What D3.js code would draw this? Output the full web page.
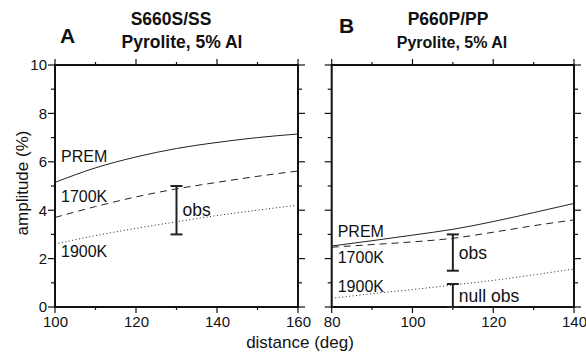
<!DOCTYPE html>
<html>
<head>
<meta charset="utf-8">
<script src="https://cdn.jsdelivr.net/npm/d3@7"></script>
<style>
  body { margin: 0; background: #fff; }
  svg { display: block; font-family: "Liberation Sans", Arial, sans-serif; }
</style>
</head>
<body>
<svg width="586" height="353"></svg>
<script>
// panel A: S660S/SS
const distA = [100, 110, 120, 130, 140, 150, 160];
const premA = [5.15, 5.75, 6.2, 6.55, 6.8, 7.0, 7.15];
const k1700A = [3.7, 4.15, 4.55, 4.88, 5.15, 5.4, 5.62];
const k1900A = [2.6, 2.95, 3.25, 3.52, 3.78, 4.0, 4.21];
const obsA = [{ x: 130, lo: 3.0, hi: 5.0, label: "obs" }];

// panel B: P660P/PP
const distB = [80, 90, 100, 110, 120, 130, 140];
const premB = [2.52, 2.74, 2.97, 3.21, 3.53, 3.9, 4.28];
const k1700B = [2.47, 2.58, 2.69, 2.84, 3.09, 3.36, 3.6];
const k1900B = [0.36, 0.55, 0.72, 0.91, 1.1, 1.33, 1.57];
const obsB = [{ x: 110, lo: 1.5, hi: 3.0, label: "obs" }, { x: 110, lo: 0, hi: 0.95, label: "null obs" }];

const yTicks = [0, 2, 4, 6, 8, 10];

const svg = d3.select('svg');
const plotTop = 65, plotBottom = 307;

const y = d3.scaleLinear().domain([0, 10]).range([plotBottom, plotTop]);

function drawPanel(opt) {
    const x = d3.scaleLinear().domain(opt.domain).range(opt.range);
    const g = svg.append('g');
    const [x0, x1] = opt.range;

    const majorX = d3.range(opt.domain[0], opt.domain[1] + 1, 20);
    const minorX = d3.range(opt.domain[0], opt.domain[1] + 1, 10);
    const minorY = d3.range(0, 11, 1);

    // ticks, outward on every side
    const tk = g.append('g').attr('stroke', '#111').attr('stroke-width', 1.2);
    minorX.forEach(v => {
        const len = majorX.includes(v) ? 6 : 3;
        tk.append('line').attr('x1', x(v)).attr('x2', x(v)).attr('y1', plotTop).attr('y2', plotTop - len);
        tk.append('line').attr('x1', x(v)).attr('x2', x(v)).attr('y1', plotBottom).attr('y2', plotBottom + len);
    });
    minorY.forEach(v => {
        const len = yTicks.includes(v) ? 7 : 4;
        tk.append('line').attr('y1', y(v)).attr('y2', y(v)).attr('x1', x0).attr('x2', x0 - len);
        tk.append('line').attr('y1', y(v)).attr('y2', y(v)).attr('x1', x1).attr('x2', x1 + len);
    });

    g.append('g')
        .attr('transform', `translate(0,${plotBottom})`)
        .call(d3.axisBottom(x).tickValues(majorX).tickSize(0).tickPadding(9).tickFormat(d3.format('d')))
        .call(a => a.select('.domain').remove())
        .call(a => a.selectAll('text').attr('font-size', 15).attr('fill', '#111'))
        .attr('font-family', null);

    if (opt.yLabels) {
        g.append('g')
            .attr('transform', `translate(${x0},0)`)
            .call(d3.axisLeft(y).tickValues(yTicks).tickSize(0).tickPadding(8).tickFormat(d3.format('d')))
            .call(a => a.select('.domain').remove())
            .call(a => a.selectAll('text').attr('font-size', 15).attr('fill', '#111'))
            .attr('font-family', null);
    }

    // frame
    g.append('rect')
        .attr('x', x0).attr('y', plotTop)
        .attr('width', x1 - x0).attr('height', plotBottom - plotTop)
        .attr('fill', 'none').attr('stroke', '#111').attr('stroke-width', 2);

    const line = d3.line().x(d => x(d[0])).y(d => y(d[1])).curve(d3.curveMonotoneX);
    const curves = [
        { v: opt.prem, dash: null, w: 1 },
        { v: opt.k1700, dash: '7,5', w: 1 },
        { v: opt.k1900, dash: '1,2.5', w: 1 }
    ];
    curves.forEach(c => {
        g.append('path')
            .datum(opt.dist.map((d, i) => [d, c.v[i]]))
            .attr('d', line)
            .attr('fill', 'none')
            .attr('stroke', '#222')
            .attr('stroke-width', c.w)
            .attr('stroke-dasharray', c.dash);
    });

    // curve labels
    opt.curveLabels.forEach(l => {
        g.append('text').attr('x', x0 + 6).attr('y', l.y)
            .attr('font-size', 16).attr('fill', '#111').text(l.t);
    });

    // error bars
    opt.obs.forEach(o => {
        const ex = x(o.x);
        const eb = g.append('g').attr('stroke', '#222').attr('stroke-width', 2);
        eb.append('line').attr('x1', ex).attr('x2', ex).attr('y1', y(o.lo)).attr('y2', y(o.hi));
        eb.append('line').attr('x1', ex - 6).attr('x2', ex + 6).attr('y1', y(o.lo)).attr('y2', y(o.lo));
        eb.append('line').attr('x1', ex - 6).attr('x2', ex + 6).attr('y1', y(o.hi)).attr('y2', y(o.hi));
        g.append('text')
            .attr('x', ex + 6)
            .attr('y', (y(o.lo) + y(o.hi)) / 2 + 6)
            .attr('font-size', 17.5).attr('fill', '#111').text(o.label);
    });

    // titles
    g.append('text').attr('x', opt.letter[1]).attr('y', opt.letter[2])
        .attr('font-size', 21).attr('font-weight', 'bold').attr('fill', '#111').text(opt.letter[0]);
    opt.titles.forEach(t => {
        g.append('text').attr('x', t.x).attr('y', t.y).attr('text-anchor', 'middle')
            .attr('font-size', t.s).attr('font-weight', 'bold').attr('fill', '#111').text(t.t);
    });
}

drawPanel({
    domain: [100, 160], range: [55, 298], yLabels: true,
    dist: distA, prem: premA, k1700: k1700A, k1900: k1900A, obs: obsA,
    curveLabels: [{ t: 'PREM', y: 162 }, { t: '1700K', y: 202 }, { t: '1900K', y: 257 }],
    letter: ['A', 60, 43],
    titles: [{ t: 'S660S/SS', x: 171, y: 25, s: 17.5 }, { t: 'Pyrolite, 5% Al', x: 182, y: 48, s: 17.5 }]
});

drawPanel({
    domain: [80, 140], range: [331.7, 574], yLabels: false,
    dist: distB, prem: premB, k1700: k1700B, k1900: k1900B, obs: obsB,
    curveLabels: [{ t: 'PREM', y: 237 }, { t: '1700K', y: 263 }, { t: '1900K', y: 292 }],
    letter: ['B', 339, 33],
    titles: [{ t: 'P660P/PP', x: 448, y: 25, s: 17.5 }, { t: 'Pyrolite, 5% Al', x: 452, y: 48, s: 16 }]
});

// axis titles
svg.append('text')
    .attr('transform', 'translate(28,183) rotate(-90)')
    .attr('text-anchor', 'middle')
    .attr('font-size', 17).attr('fill', '#111')
    .text('amplitude (%)');

svg.append('text')
    .attr('x', 300).attr('y', 348)
    .attr('text-anchor', 'middle')
    .attr('font-size', 17).attr('fill', '#111')
    .text('distance (deg)');
</script>
</body>
</html>
